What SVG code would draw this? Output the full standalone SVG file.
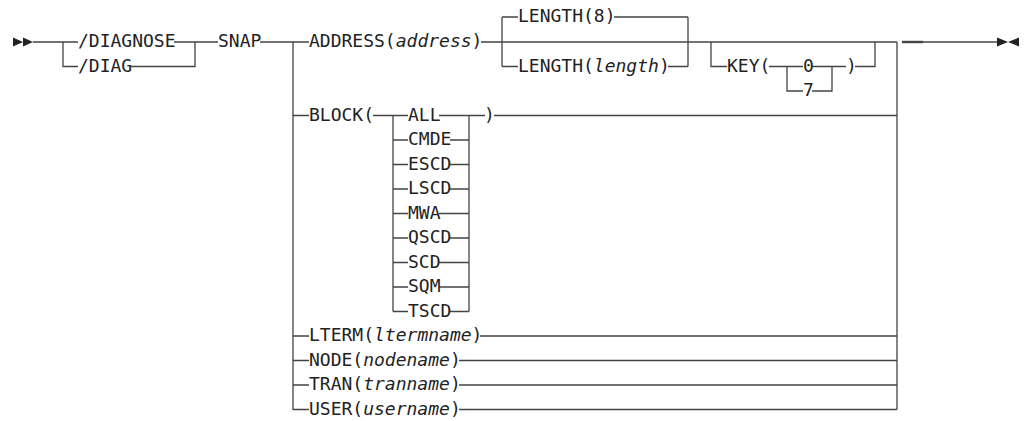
<svg xmlns="http://www.w3.org/2000/svg" width="1024" height="421" viewBox="0 0 1024 421">
<style>
text{font-family:"DejaVu Sans Mono","Liberation Mono",monospace;font-size:18px;fill:#222}
.i{font-style:italic}
.c path{fill:none;stroke:#444;stroke-width:1.3}
.m{fill:#222;stroke:none}
</style>
<rect width="1024" height="421" fill="#fff"/>
<g id="connectors" class="c">
<path d="M33,42 H78 M63,42 V66.5 H78 M174,42 H218 M131,66.5 H195 V42 M260,42 H309"/>
<path d="M293,42 V409.5 H309 M293,115.5 H309 M293,336 H309 M293,360.5 H309 M293,385 H309"/>
<path d="M481,42 H897"/>
<path d="M502,17 V66.5 M502,17 H518 M502,66.5 H518 M614,17 H688 M668,66.5 H688 M688,17 V66.5"/>
<path d="M711,42 V66.5 H727 M769,66.5 H803 M787,66.5 V91 H803 M812,66.5 H846 M812,91 H832 V66.5 M855,66.5 H875 V42"/>
<path d="M373,115.5 H408 M393,115.5 V311.5 M393,140 H408 M393,164.5 H408 M393,189 H408 M393,213.5 H408 M393,238 H408 M393,262.5 H408 M393,287 H408 M393,311.5 H408"/>
<path d="M439,115.5 H469 M450,140 H469 M450,164.5 H469 M450,189 H469 M439,213.5 H469 M450,238 H469 M439,262.5 H469 M439,287 H469 M450,311.5 H469 M469,115.5 V311.5 M469,115.5 H485 M494,115.5 H897"/>
<path d="M480,336 H897 M459,360.5 H897 M459,385 H897 M459,409.5 H897 M897,42 V409.5"/>
<path d="M902,42 H998"/>
<path d="M902,42 H923" style="stroke-width:2.4"/>
<polygon class="m" points="13,37.5 23,42 13,46.5"/>
<polygon class="m" points="23,37.5 33,42 23,46.5"/>
<polygon class="m" points="997,37.5 1008,42 997,46.5"/>
<polygon class="m" points="1019,37.5 1008,42 1019,46.5"/>
</g>
<g id="diagnose"><text x="78" y="47">/DIAGNOSE</text></g>
<g id="diag"><text x="78" y="71.5">/DIAG</text></g>
<g id="snap"><text x="218" y="47">SNAP</text></g>
<g id="address"><text x="309" y="47">ADDRESS(<tspan class="i">address</tspan>)</text></g>
<g id="length8"><text x="518" y="22">LENGTH(8)</text></g>
<g id="lengthv"><text x="518" y="71.5">LENGTH(<tspan class="i">length</tspan>)</text></g>
<g id="key"><text x="727" y="71.5">KEY(</text></g>
<g id="key0"><text x="803" y="71.5">0</text></g>
<g id="key7"><text x="803" y="96">7</text></g>
<g id="keyclose"><text x="846" y="71.5">)</text></g>
<g id="block"><text x="309" y="120.5">BLOCK(</text></g>
<g id="all"><text x="408" y="120.5">ALL</text></g>
<g id="cmde"><text x="408" y="145">CMDE</text></g>
<g id="escd"><text x="408" y="169.5">ESCD</text></g>
<g id="lscd"><text x="408" y="194">LSCD</text></g>
<g id="mwa"><text x="408" y="218.5">MWA</text></g>
<g id="qscd"><text x="408" y="243">QSCD</text></g>
<g id="scd"><text x="408" y="267.5">SCD</text></g>
<g id="sqm"><text x="408" y="292">SQM</text></g>
<g id="tscd"><text x="408" y="316.5">TSCD</text></g>
<g id="blockclose"><text x="484" y="120.5">)</text></g>
<g id="lterm"><text x="309" y="341">LTERM(<tspan class="i">ltermname</tspan>)</text></g>
<g id="node"><text x="309" y="365.5">NODE(<tspan class="i">nodename</tspan>)</text></g>
<g id="tran"><text x="309" y="390">TRAN(<tspan class="i">tranname</tspan>)</text></g>
<g id="user"><text x="309" y="414.5">USER(<tspan class="i">username</tspan>)</text></g>
</svg>
